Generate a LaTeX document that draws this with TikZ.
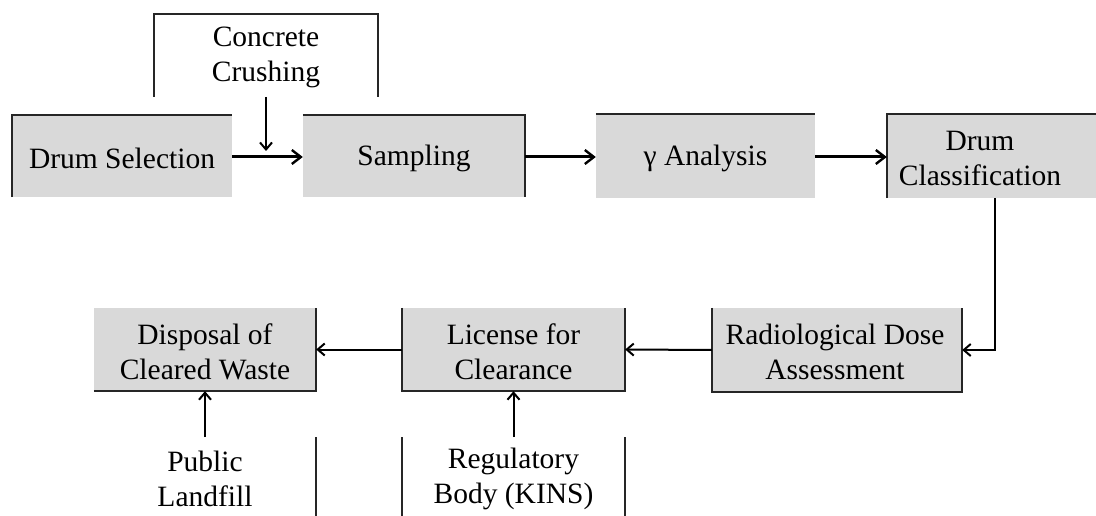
\documentclass[tikz,border=0pt]{standalone}
\usepackage{fontspec}
\setmainfont{Liberation Serif}
\usetikzlibrary{arrows.meta}
\begin{document}
\begin{tikzpicture}[x=1pt,y=-1pt,
  box/.style={fill=boxgray,draw=none,inner sep=0pt,align=center},
  txt/.style={inner sep=0pt,align=center,font=\fontsize{29.5}{35}\selectfont},
  edge/.style={line width=2.2pt,draw=black!85},
  thick arrow/.style={line width=3pt,-{Straight Barb[length=9pt,width=14pt,line width=2.4pt]}},
  thin arrow/.style={line width=2pt,-{Straight Barb[length=7pt,width=12pt,line width=2pt]}}
]
\definecolor{boxgray}{RGB}{217,217,217}
\useasboundingbox (0,0) rectangle (1096,516);
\fill[white] (0,0) rectangle (1096,516);

% boxes (fill)
\node[box,minimum width=220pt,minimum height=82pt] (ds) at (122,156) {};
\node[txt] at (122,158) {Drum Selection};
\node[box,minimum width=222pt,minimum height=82pt] (sa) at (414,156) {};
\node[txt] at (414,158) {Sampling};
\node[box,minimum width=219pt,minimum height=84pt] (ga) at (705.5,156) {};
\node[txt] at (705.5,158) {γ Analysis};
\node[box,minimum width=209pt,minimum height=84pt] (dc) at (991.5,156) {};
\node[txt] at (980,158) {Drum\\Classification};
\node[box,minimum width=250pt,minimum height=84pt] (rd) at (837,350) {};
\node[txt] at (835,352) {Radiological Dose\\Assessment};
\node[box,minimum width=223pt,minimum height=83pt] (lc) at (513.5,349.5) {};
\node[txt] at (513.5,352) {License for\\Clearance};
\node[box,minimum width=222pt,minimum height=83pt] (dw) at (205,349.5) {};
\node[txt] at (205,352) {Disposal of\\Cleared Waste};

% partial box edges
\draw[edge] (ds.south west) -- (ds.north west) -- (ds.north east);
\draw[edge] (sa.north west) -- (sa.north east) -- (sa.south east);
\draw[edge] (ga.north west) -- (ga.north east);
\draw[edge] (dc.south west) -- (dc.north west) -- (dc.north east);
\draw[edge] (rd.north west) -- (rd.south west) -- (rd.south east) -- (rd.north east);
\draw[edge] (lc.north west) -- (lc.south west) -- (lc.south east) -- (lc.north east);
\draw[edge] (dw.south west) -- (dw.south east) -- (dw.north east);

% concrete crushing
\node[txt] (cc) at (266,57) {Concrete\\Crushing};
\coordinate (ccl) at (154,97);
\coordinate (ccr) at (378,97);
\draw[edge] (ccl) -- (154,14) -- (378,14) -- (ccr);
\coordinate (cctop) at (266,97);
\coordinate (ccbot) at (266,151);
\draw[thin arrow] (cctop) -- (ccbot);

% bottom labels
\node[txt] (pl) at (205,479) {Public\\Landfill};
\node[txt] (rb) at (513.5,479) {Regulatory\\Body (KINS)};
\draw[edge] (316,437) -- (316,516);
\draw[edge] (402,437) -- (402,516);
\draw[edge] (625,437) -- (625,516);

% connectors
\draw[thick arrow] (ds.east |- 0,157) -- (sa.west |- 0,157);
\draw[thick arrow] (sa.east |- 0,157) -- (ga.west |- 0,157);
\draw[thick arrow] (ga.east |- 0,157) -- (dc.west |- 0,157);
\draw[thin arrow,line width=2.6pt] (995,198) |- (rd.east);
\draw[thin arrow] (rd.west) -- (lc.east);
\draw[thin arrow] (lc.west) -- (dw.east);
\draw[thin arrow] (205,437) -- (dw.south);
\draw[thin arrow] (513.5,437) -- (lc.south);
\end{tikzpicture}
\end{document}
